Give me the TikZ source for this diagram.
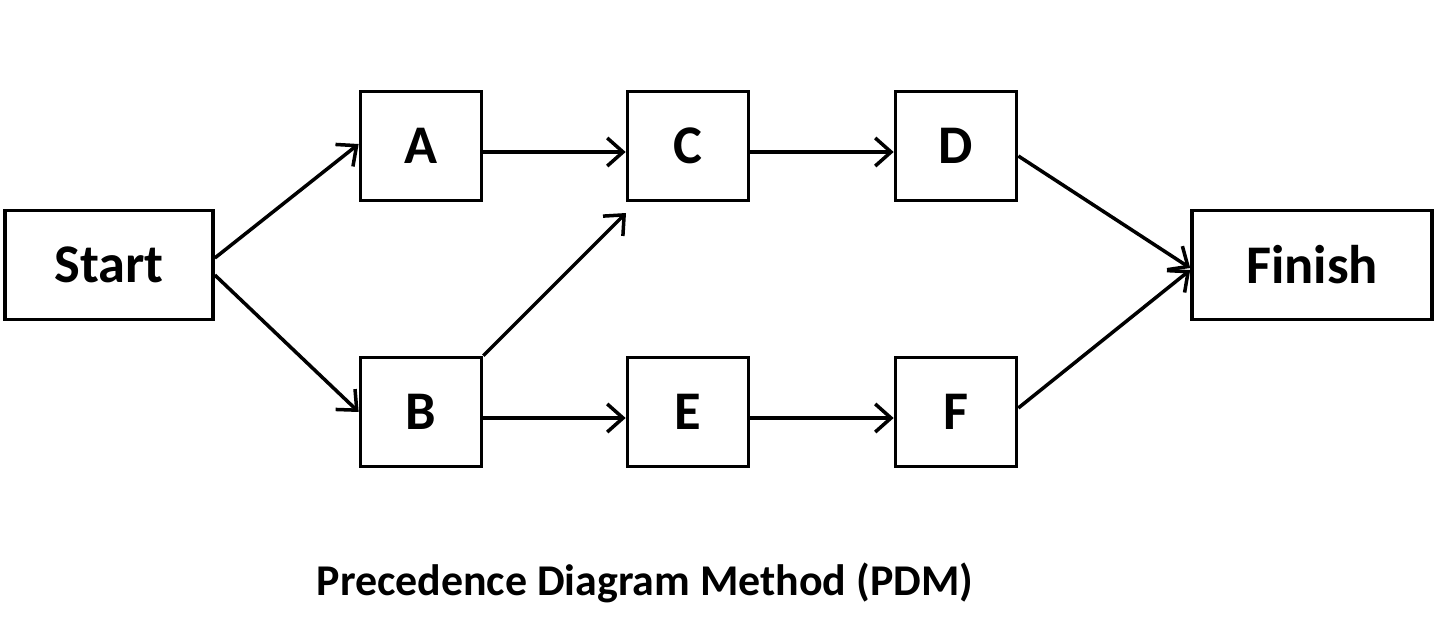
\documentclass[tikz,border=0pt]{standalone}
\usepackage{fontspec}
\setmainfont{Carlito}
\usetikzlibrary{arrows.meta}
\tikzset{
  task/.style={draw, line width=2.1pt, minimum width=2.42cm, minimum height=2.18cm, font=\fontsize{31}{34}\selectfont\bfseries},
  link/.style={line width=2pt, -{Straight Barb[length=9pt,width=16pt,line width=2pt]}}
}
\begin{document}
\begin{tikzpicture}[x=0.02cm, y=-0.02cm]
\useasboundingbox (0,0) rectangle (1440,639);
% activity boxes
\node[task, minimum width=4.16cm] (start) at (109,265) {Start};
\node[task] (a) at (421,146) {A};
\node[task] (c) at (688,146) {C};
\node[task] (d) at (956,146) {D};
\node[task] (b) at (421,412) {B};
\node[task] (e) at (688,412) {E};
\node[task] (f) at (956,412) {F};
\node[task, minimum width=4.8cm] (finish) at (1312,265) {Finish};
\coordinate (cfree) at (626,213);
% dependencies
\draw[link] ([yshift=0.14cm]start.east) -- ([yshift=0.04cm]a.west);
\draw[link] ([yshift=-0.2cm]start.east) -- ([yshift=0cm]b.west);
\draw[link] ([yshift=-0.12cm]a.east) -- ([yshift=-0.12cm]c.west);
\draw[link] ([yshift=-0.12cm]c.east) -- ([yshift=-0.12cm]d.west);
\draw[link] (b.north east) -- (cfree);
\draw[link] ([yshift=-0.12cm]b.east) -- ([yshift=-0.12cm]e.west);
\draw[link] ([yshift=-0.12cm]e.east) -- ([yshift=-0.12cm]f.west);
\draw[link] ([yshift=-0.2cm]d.east) -- ([yshift=-0.06cm]finish.west);
\draw[link] ([yshift=0.08cm]f.east) -- ([yshift=-0.1cm]finish.west);
\node[font=\fontsize{25}{28}\selectfont\bfseries] (title) at (645,583) {Precedence Diagram Method (PDM)};
\end{tikzpicture}
\end{document}
